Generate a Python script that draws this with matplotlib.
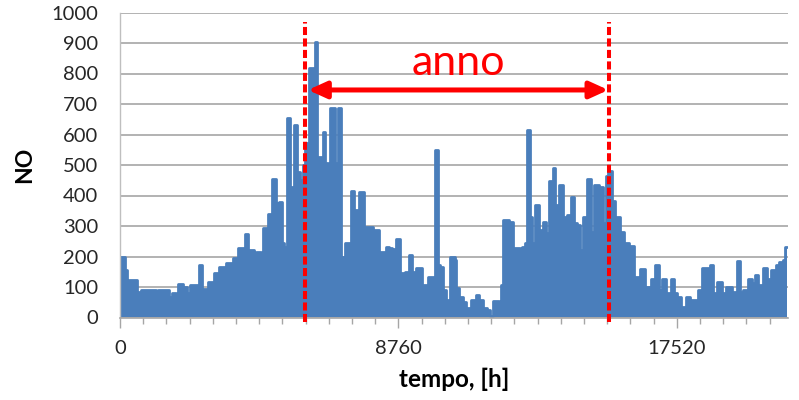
import matplotlib
matplotlib.use("Agg")
import matplotlib.pyplot as plt
import numpy as np

# ---- data (upper envelope of hourly NO series) ----
hours = [0, 63, 147, 189, 252, 315, 514, 587, 724, 1091, 1175, 1217, 1511, 1584,
         1668, 1741, 1794, 1867, 1930, 2004, 2088, 2150, 2245, 2402, 2539, 2612,
         2717, 2790, 2927, 3000, 3084, 3157, 3273, 3315, 3378, 3504, 3577, 3661,
         3734, 3871, 4007, 4080, 4185, 4238, 4343, 4395, 4448, 4574, 4720, 4867,
         4951, 5056, 5130, 5203, 5308, 5392, 5528, 5623, 5707, 5790, 5874, 6021,
         6084, 6158, 6231, 6336, 6409, 6493, 6577, 6651, 6724, 6808, 6913, 7018,
         7154, 7249, 7312, 7406, 7469, 7542, 7626, 7700, 7889, 8015, 8098, 8193,
         8329, 8413, 8518, 8623, 8770, 8875, 9043, 9148, 9220, 9409, 9567, 9640,
         9745, 9850, 9955, 10029, 10134, 10217, 10322, 10427, 10512, 10563, 10605,
         10720, 10836, 10962, 11140, 11255, 11360, 11486, 11591, 11696, 11801,
         11885, 11958, 12011, 12116, 12189, 12304, 12409, 12535, 12619, 12703,
         12776, 12850, 12934, 13007, 13112, 13248, 13353, 13458, 13563, 13657,
         13741, 13878, 13983, 14130, 14235, 14319, 14423, 14507, 14612, 14769,
         14843, 15000, 15158, 15242, 15315, 15420, 15525, 15651, 15787, 15944,
         16102, 16259, 16437, 16626, 16773, 16920, 16993, 17130, 17256, 17392,
         17486, 17570, 17728, 17885, 18011, 18116, 18252, 18389, 18514, 18598,
         18703, 18882, 18987, 19165, 19354, 19459, 19542, 19668, 19826, 19931,
         20036, 20141, 20320, 20403, 20560, 20697, 20801, 20896, 20958, 21000]
no_values = [200, 200, 200, 155, 112, 123, 123, 85, 90, 90, 40, 90, 90, 68,
             80, 80, 65, 110, 110, 100, 100, 80, 106, 106, 172, 92,
             92, 118, 118, 145, 145, 165, 165, 68, 178, 178, 194, 194,
             227, 227, 274, 221, 221, 188, 216, 216, 155, 292, 339, 453,
             374, 380, 243, 230, 653, 429, 630, 478, 451, 500, 571, 817,
             817, 904, 527, 527, 609, 505, 494, 686, 686, 505, 688, 200,
             243, 243, 416, 352, 352, 412, 412, 298, 298, 287, 287, 216,
             216, 230, 228, 225, 257, 145, 150, 205, 148, 161, 106, 106,
             134, 134, 549, 172, 167, 90, 57, 200, 200, 188, 96,
             68, 52, 30, 57, 74, 57, 30, 25, 5, 55,
             55, 40, 106, 320, 320, 314, 227, 227, 200, 230,
             243, 615, 330, 243, 369, 287, 314, 276, 446, 489,
             369, 434, 330, 336, 396, 309, 303, 220, 330, 454,
             281, 434, 428, 310, 464, 480, 383, 328, 281, 243,
             236, 134, 158, 101, 127, 172, 90, 127, 79, 127,
             79, 68, 36, 68, 57, 57, 90, 161, 161, 172,
             79, 117, 79, 101, 85, 185, 85, 90, 127, 112,
             139, 106, 161, 127, 156, 172, 183, 188, 232, 232]

x_ticks = [0, 8760, 17520]
x_tick_labels = ["0", "8760", "17520"]
y_ticks = [0, 100, 200, 300, 400, 500, 600, 700, 800, 900, 1000]
anno_bounds = [5812, 15400]
arrow_ends = [5917, 15367]
arrow_level = 746
anno_label = "anno"
x_label = "tempo, [h]"
y_label = "NO"

BLUE = "#4A7EBB"
RED = "#FF0000"
GRID = "#A6A6A6"

plt.rcParams['font.family'] = ['Lato', 'DejaVu Sans']

fig = plt.figure(figsize=(7.99, 4.0), dpi=100)
ax = fig.add_axes([120 / 799, 1 - 317.5 / 400, (788.3 - 120) / 799, (317.5 - 12.5) / 400])

ax.fill_between(hours, no_values, 0, step="mid", color=BLUE, linewidth=0, zorder=2)
ax.step(hours, no_values, where="mid", color=BLUE, linewidth=2.0, zorder=2,
        solid_joinstyle="round", solid_capstyle="round")

ax.set_xlim(0, 21030)
ax.set_ylim(0, 1000)

# grid
ax.set_yticks(y_ticks)
ax.yaxis.grid(True, color=GRID, linewidth=1.2, zorder=0)
ax.set_axisbelow(True)
ax.tick_params(axis="y", length=0, pad=15.5, labelsize=14.5, colors="#262626")

# x ticks: major labelled, minor monthly
ax.set_xticks(x_ticks)
ax.set_xticklabels(x_tick_labels)
ax.set_xticks(np.arange(0, 21030, 730), minor=True)
ax.tick_params(axis="x", which="major", length=7, width=1, color=GRID,
               pad=9, labelsize=14.5, labelcolor="#262626")
ax.tick_params(axis="x", which="minor", length=4.5, width=1, color=GRID)

for side in ["top", "right"]:
    ax.spines[side].set_visible(False)
ax.spines["left"].set_color("#BFBFBF")
ax.spines["bottom"].set_color(GRID)
ax.spines["left"].set_linewidth(1)
ax.spines["bottom"].set_linewidth(1.2)

ax.set_xlabel(x_label, fontsize=17.5, fontweight="bold", labelpad=8, color="#000000")
ax.set_ylabel(y_label, fontsize=16.5, fontweight="bold", labelpad=12, color="#000000")

# red dashed bounds
for xb in anno_bounds:
    ln, = ax.plot([xb, xb], [-14, 970], color=RED, linewidth=2.9, zorder=5,
                  clip_on=False, solid_capstyle="butt")
    ln.set_dashes((2.0, 0.85))
    ln.set_dash_capstyle("butt")

ax.annotate("", xy=(arrow_ends[0], arrow_level), xytext=(arrow_ends[1], arrow_level),
            arrowprops=dict(arrowstyle="<|-|>,head_length=0.55,head_width=0.25",
                            mutation_scale=20, color=RED, lw=3.6,
                            shrinkA=0, shrinkB=0),
            zorder=6)
ax.text((arrow_ends[0] + arrow_ends[1]) / 2, 795, anno_label, color=RED,
        fontsize=31, ha="center", va="baseline", zorder=6)

fig.savefig("out.png", dpi=100)
